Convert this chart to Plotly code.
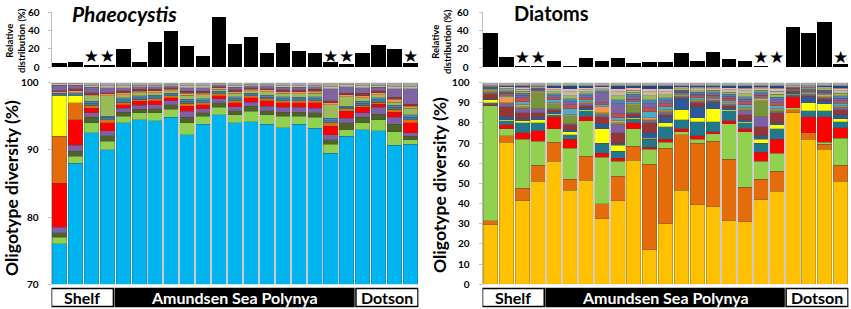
import plotly.graph_objects as go

# ---------------- data ----------------
bars = list(range(1, 24))
star_bars = [3, 4, 18, 19, 23]

phaeo_rel = [4.8, 5.5, 1.8, 1.8, 20.2, 5.5, 27.6, 39.7, 22.8, 12.1, 55.2, 25, 32.4,
             15.5, 26.5, 17.7, 15.8, 5.2, 3.3, 15.5, 23.6, 20.2, 4.8]
diatom_rel = [36.8, 10.7, 1.5, 1.1, 7, 1.1, 10.3, 6.3, 9.6, 4, 5.9, 5.9, 15.8,
              6.3, 16.6, 8.8, 6.3, 1.1, 0.4, 43.4, 36.8, 49, 3.3]

# Phaeocystis oligotypes (segment heights, bottom to top)
ph_blue = [76, 88, 92.5, 90, 94, 94.5, 94.3, 94.8, 92.2, 93.8, 95.2, 94, 94.2, 93.8, 93.3, 93.8, 93.2, 89.5, 92, 93, 92.8, 90.7, 90.8]
ph_lgreen = [1, 1, 1.5, 1.3, 1, 1, 1.2, 1.2, 1.8, 1.2, 1.1, 1.2, 1.5, 1.4, 1.7, 1.2, 1.6, 1.3, 1, 1, 1.7, 2, 0.7]
ph_dkolive = [0.7, 0.8, 0.8, 0.8, 0.6, 0.5, 0.6, 0.7, 0.8, 0.5, 0.7, 0.6, 0.8, 0.6, 0.6, 0.6, 0.7, 0.7, 1, 0.8, 0.8, 1.1, 0.5]
ph_purple = [0.8, 0.9, 0.7, 0.7, 0.6, 0.6, 0.6, 0.6, 0.9, 0.6, 0.6, 0.6, 0.6, 0.7, 0.7, 0.7, 0.7, 0.7, 0.7, 0.7, 1, 1, 0.5]
ph_red = [6.5, 3.8, 0.7, 1.2, 0.5, 0.6, 0.6, 0.4, 0.8, 0.6, 0.4, 0.6, 0.6, 0.8, 0.7, 0.7, 0.8, 1.3, 1, 0.8, 0.5, 0.8, 1.5]
ph_orange = [7, 2.5, 0.4, 0.5, 0.4, 0.3, 0.3, 0.3, 0.4, 0.3, 0.3, 0.3, 0.3, 0.3, 0.3, 0.3, 0.3, 0.5, 0.4, 0.3, 0.3, 0.4, 0.5]
ph_yellow = [6, 1, 0, 0, 0, 0, 0, 0, 0, 0, 0, 0, 0, 0, 0, 0, 0, 0, 0, 0, 0, 0, 0]
ph_olive = [0, 0, 0.8, 3, 0.5, 0.5, 0.4, 0.4, 0.6, 0.6, 0.3, 0.5, 0.4, 0.5, 0.5, 0.5, 0.5, 2, 1.4, 0.5, 0.5, 0.5, 1]
ph_purple2 = [0.8, 0.5, 0.8, 0.7, 0.4, 0.4, 0.4, 0.3, 0.5, 0.5, 0.3, 0.4, 0.3, 0.4, 0.4, 0.4, 0.4, 1.8, 1, 0.8, 0.5, 1.3, 2.3]
ph_teal = [0.2, 0.3, 0.3, 0.3, 0.3, 0.2, 0.3, 0.2, 0.3, 0.3, 0.2, 0.3, 0.2, 0.2, 0.3, 0.3, 0.3, 0.3, 0.2, 0.3, 0.3, 0.3, 0.3]
ph_steel = [0.2, 0.2, 0.3, 0.2, 0.3, 0.3, 0.2, 0.2, 0.3, 0.3, 0.2, 0.3, 0.2, 0.3, 0.3, 0.2, 0.3, 0.4, 0.2, 0.3, 0.3, 0.3, 0.4]
ph_lorange = [0.2, 0.3, 0.2, 0.3, 0.3, 0.2, 0.3, 0.2, 0.3, 0.2, 0.2, 0.2, 0.2, 0.3, 0.2, 0.3, 0.3, 0.3, 0.3, 0.3, 0.3, 0.4, 0.3]
ph_darkred = [0.2, 0.3, 0.3, 0.2, 0.3, 0.3, 0.2, 0.2, 0.3, 0.3, 0.2, 0.3, 0.2, 0.2, 0.3, 0.3, 0.3, 0.3, 0.2, 0.4, 0.3, 0.3, 0.3]
ph_tan = [0.2, 0.2, 0.3, 0.3, 0.3, 0.2, 0.2, 0.2, 0.3, 0.3, 0.1, 0.2, 0.2, 0.2, 0.2, 0.2, 0.2, 0.3, 0.3, 0.3, 0.3, 0.3, 0.3]

# Diatom oligotypes (segment heights, bottom to top)
di_gold = [29.5, 70.5, 41.5, 51, 61, 46.5, 51.5, 32.5, 41.5, 61.5, 17, 30, 46.5, 39.5, 38.5, 31.5, 31, 42, 46, 85, 72, 67, 51]
di_orange = [2, 3, 6, 8, 9.5, 5.5, 12, 7.5, 12, 7, 42.5, 37.5, 27.5, 30.5, 32.5, 30.5, 17, 10, 10, 1.5, 3, 2.5, 8]
di_lgreen = [57, 3.5, 24.5, 12, 6.5, 15.5, 17.5, 23, 7.5, 8.5, 7.5, 3, 1.5, 2, 3.5, 17.5, 27.5, 9, 9, 1, 0, 1, 13.5]
di_red = [0.5, 2, 3, 5, 6, 4.5, 2, 2, 1.5, 3, 1, 1.5, 1.5, 1.5, 1, 1.5, 1.5, 4.5, 7, 5.5, 8, 12.5, 5]
di_teal = [1, 2, 5, 4, 1, 2, 3, 5, 3.5, 2, 4, 6, 4.5, 7, 5, 5, 3, 4.5, 5, 1, 3, 3, 3]
di_yellow = [1.5, 0.5, 1, 1.5, 0.5, 1.5, 0.5, 7, 3, 0.5, 0.5, 2, 5, 2, 6.5, 0.5, 0.5, 2, 2, 0.3, 4, 3.5, 1.5]
di_navy = [0.5, 1.5, 1, 1.5, 1, 1, 1, 2.5, 1, 0.5, 2.5, 3, 5.5, 5.5, 3, 1, 1, 1.5, 1, 0.5, 3, 1.5, 2]
di_darkred = [2.5, 5, 3, 2, 1, 2.5, 1, 3.5, 5, 1.5, 5, 1, 0.5, 2, 0.5, 1, 2.5, 4.5, 5, 0.5, 0.5, 1, 2.5]
di_purple = [0.5, 1.5, 2, 2, 0.5, 0.5, 1, 1, 4, 0.5, 1, 1, 0.5, 0.5, 0.5, 0.5, 2, 5, 0.5, 0.3, 0.5, 0.5, 1]
di_olive = [1, 0.5, 1, 8, 2.5, 4, 0.5, 1, 1, 4, 0.5, 1, 0.5, 0.5, 0.5, 0.5, 1, 8, 1, 0.3, 0.5, 0.5, 0.5]
di_lorange = [0.5, 3, 1, 0.5, 0.5, 0.5, 0.5, 3, 1, 0.5, 1, 0.5, 0.5, 0.5, 0.5, 0.5, 0.5, 1, 0.5, 0.3, 0.5, 1, 0.5]
di_teal2 = [0.3, 0.8, 1.5, 0.4, 1.5, 3, 1, 1, 1.5, 1.2, 3, 1.5, 0.6, 1, 0.8, 1, 1.5, 0.8, 1.5, 0.3, 0.5, 0.6, 1.2]
di_purple2 = [0.3, 0.6, 1.2, 0.4, 1, 1.5, 1, 5, 5, 1.2, 2, 1.5, 0.5, 0.8, 0.8, 1, 1.2, 0.8, 1.4, 0.3, 0.4, 0.5, 1.3]
di_darkred2 = [0.3, 0.8, 2, 0.4, 1, 2, 1, 1, 2, 1, 2, 1.5, 0.6, 1, 0.9, 1.2, 1.5, 0.9, 1.5, 0.3, 0.5, 0.6, 1.2]
di_steel = [0.2, 0.6, 1, 0.4, 1, 1.5, 1, 1, 2, 1.2, 2, 1.5, 0.5, 0.8, 0.8, 1, 1.3, 0.8, 1.4, 0.3, 0.4, 0.5, 1.3]
di_olive2 = [0.3, 0.5, 1, 0.3, 1, 1.5, 1, 0.5, 2, 1, 2, 1.5, 0.6, 0.8, 0.8, 1, 1.5, 0.8, 1.5, 0.3, 0.5, 0.6, 1.2]
di_tan = [0.2, 0.8, 1, 0.4, 1, 2, 1, 0.5, 2, 1, 2, 1.5, 0.6, 1, 0.8, 1.2, 1.3, 0.8, 1.4, 0.3, 0.4, 0.6, 1.3]
di_pink = [0.2, 0.7, 1, 0.4, 1, 1.5, 1, 0.8, 1.5, 1.2, 1.5, 1.5, 0.5, 0.8, 0.8, 1, 1.4, 0.8, 1.4, 0.3, 0.4, 0.5, 1.2]
di_navy2 = [0.2, 0.7, 0.8, 0.3, 1, 1.5, 1, 0.7, 1.5, 1.2, 1.5, 1.5, 0.6, 0.8, 0.8, 1.1, 1.3, 0.8, 1.4, 0.2, 0.4, 0.6, 1.3]

ph_series = [
    (ph_blue, "#00B4F0"), (ph_lgreen, "#92D050"), (ph_dkolive, "#4F6228"),
    (ph_purple, "#7F5FA8"), (ph_red, "#FF0000"), (ph_orange, "#E46C0A"),
    (ph_yellow, "#FFFF00"), (ph_teal, "#31849B"), (ph_steel, "#4F81BD"),
    (ph_olive, "#9BBB59"), (ph_lorange, "#F79646"), (ph_darkred, "#943634"),
    (ph_purple2, "#8064A2"), (ph_tan, "#C4BD97"),
]
di_series = [
    (di_gold, "#FFC000"), (di_orange, "#E46C0A"), (di_lgreen, "#92D050"),
    (di_red, "#FF0000"), (di_teal, "#23778C"), (di_yellow, "#FFFF00"),
    (di_navy, "#2A5A9A"), (di_darkred, "#943634"), (di_purple, "#7F5FA8"),
    (di_olive, "#77933C"), (di_lorange, "#F79646"), (di_teal2, "#4BACC6"),
    (di_darkred2, "#C0504D"), (di_purple2, "#8064A2"), (di_steel, "#4F81BD"),
    (di_olive2, "#9BBB59"), (di_tan, "#C4BD97"), (di_pink, "#E6B9B8"),
    (di_navy2, "#1F497D"),
]

regions = [("Shelf", 0.5, 4.38, "white", "black"),
           ("Amundsen Sea Polynya", 4.5, 19.45, "black", "white"),
           ("Dotson", 19.58, 23.47, "white", "black")]

FONT = "Lato"
fig = go.Figure()

# top relative-distribution bars
fig.add_trace(go.Bar(x=bars, y=phaeo_rel, marker=dict(color="black", line=dict(width=0)),
                     xaxis="x", yaxis="y", showlegend=False))
fig.add_trace(go.Bar(x=bars, y=diatom_rel, marker=dict(color="black", line=dict(width=0)),
                     xaxis="x3", yaxis="y3", showlegend=False))

seg_line = dict(color="rgba(70,70,70,0.55)", width=0.5)


def add_stack(series, xa, ya):
    totals = [0.0] * len(bars)
    for vals, col in series:
        fig.add_trace(go.Bar(x=bars, y=vals, marker=dict(color=col, line=seg_line),
                             xaxis=xa, yaxis=ya, showlegend=False))
        totals = [t + v for t, v in zip(totals, vals)]
    rest = [max(100 - t, 0) for t in totals]
    fig.add_trace(go.Bar(x=bars, y=rest, marker=dict(color="#A6A6A6", line=seg_line),
                         xaxis=xa, yaxis=ya, showlegend=False))


add_stack(ph_series, "x2", "y2")
add_stack(di_series, "x4", "y4")

# stars
for xa, ya, sy in (("x", "y", 10), ("x3", "y3", 9)):
    fig.add_trace(go.Scatter(x=star_bars, y=[sy] * len(star_bars), mode="text", text=["★"] * len(star_bars),
                             textfont=dict(size=17, color="black", family="DejaVu Sans"),
                             xaxis=xa, yaxis=ya, showlegend=False, hoverinfo="skip"))

L = [51.5 / 851, 418.5 / 851]
R = [482.5 / 851, 848.5 / 851]
TOP = [1 - 67 / 309, 1 - 12.3 / 309]
BOT = [1 - 284.3 / 309, 1 - 82.5 / 309]
tickf = dict(family=FONT, size=10, color="black", weight="bold")

common_x = dict(range=[0.5, 23.5], showticklabels=False, ticks="", showgrid=False, zeroline=False,
                showline=False, fixedrange=True, automargin=False)
common_y = dict(showgrid=False, zeroline=False, ticks="outside", ticklen=3, tickcolor="#BFBFBF",
                tickfont=tickf, automargin=False, showline=True, linecolor="#BFBFBF", linewidth=1,
                fixedrange=True)
fig.update_layout(
    template="none",
    width=851, height=309, margin=dict(l=0, r=0, t=0, b=0, pad=0, autoexpand=False),
    paper_bgcolor="white", plot_bgcolor="white",
    barmode="stack", bargap=0.09,
    xaxis=dict(domain=L, anchor="y", **common_x),
    xaxis2=dict(domain=L, anchor="y2", **common_x),
    xaxis3=dict(domain=R, anchor="y3", **common_x),
    xaxis4=dict(domain=R, anchor="y4", **common_x),
    yaxis=dict(domain=TOP, anchor="x", range=[0, 60], tickvals=[0, 20, 40, 60], ticklabelstandoff=6, **common_y),
    yaxis2=dict(domain=BOT, anchor="x2", range=[70, 100], tickvals=[70, 80, 90, 100], ticklabelstandoff=7,
                **common_y),
    yaxis3=dict(domain=TOP, anchor="x3", range=[0, 60], tickvals=[0, 20, 40, 60], ticklabelstandoff=8, **common_y),
    yaxis4=dict(domain=BOT, anchor="x4", range=[0, 100], tickvals=list(range(0, 101, 10)), ticklabelstandoff=7,
                **common_y),
    font=dict(family=FONT, color="black"),
)

ann = []
# panel titles
ann.append(dict(x=70 / 851, y=1 - 13 / 309, xref="paper", yref="paper", xanchor="left", yanchor="middle",
                text="<b><i>Phaeocystis</i></b>", showarrow=False, font=dict(family=FONT, size=21)))
ann.append(dict(x=512 / 851, y=1 - 13 / 309, xref="paper", yref="paper", xanchor="left", yanchor="middle",
                text="<b>Diatoms</b>", showarrow=False, font=dict(family=FONT, size=20)))
# axis titles
for xp, yp in ((11, 188), (439, 185)):
    ann.append(dict(x=xp / 851, y=1 - yp / 309, xref="paper", yref="paper", xanchor="center", yanchor="middle",
                    textangle=-90, text="<b>Oligotype diversity (%)</b>", showarrow=False,
                    font=dict(family=FONT, size=17.5)))
for xp in (16, 442):
    ann.append(dict(x=xp / 851, y=1 - 41 / 309, xref="paper", yref="paper", xanchor="center", yanchor="middle",
                    textangle=-90, text="<b>Relative<br>distribution (%)</b>", showarrow=False,
                    font=dict(family=FONT, size=9.5)))

shapes = []
for xa in ("x2", "x4"):
    for name, x0, x1, fill, tc in regions:
        shapes.append(dict(type="rect", xref=xa, yref="paper", x0=x0, x1=x1,
                           y0=1 - 306.5 / 309, y1=1 - 288.5 / 309, fillcolor=fill,
                           line=dict(color="black", width=1.5)))
        ann.append(dict(x=(x0 + x1) / 2, y=1 - 297.5 / 309, xref=xa, yref="paper", xanchor="center",
                        yanchor="middle", text="<b>%s</b>" % name,
                        showarrow=False, font=dict(family=FONT, size=16, color=tc)))

fig.update_layout(annotations=ann, shapes=shapes)
fig.write_html("out.html", config={"displayModeBar": False, "staticPlot": True},
               post_script="document.body.style.margin='0';document.body.style.padding='0';"
                           "document.documentElement.style.overflow='hidden';")
